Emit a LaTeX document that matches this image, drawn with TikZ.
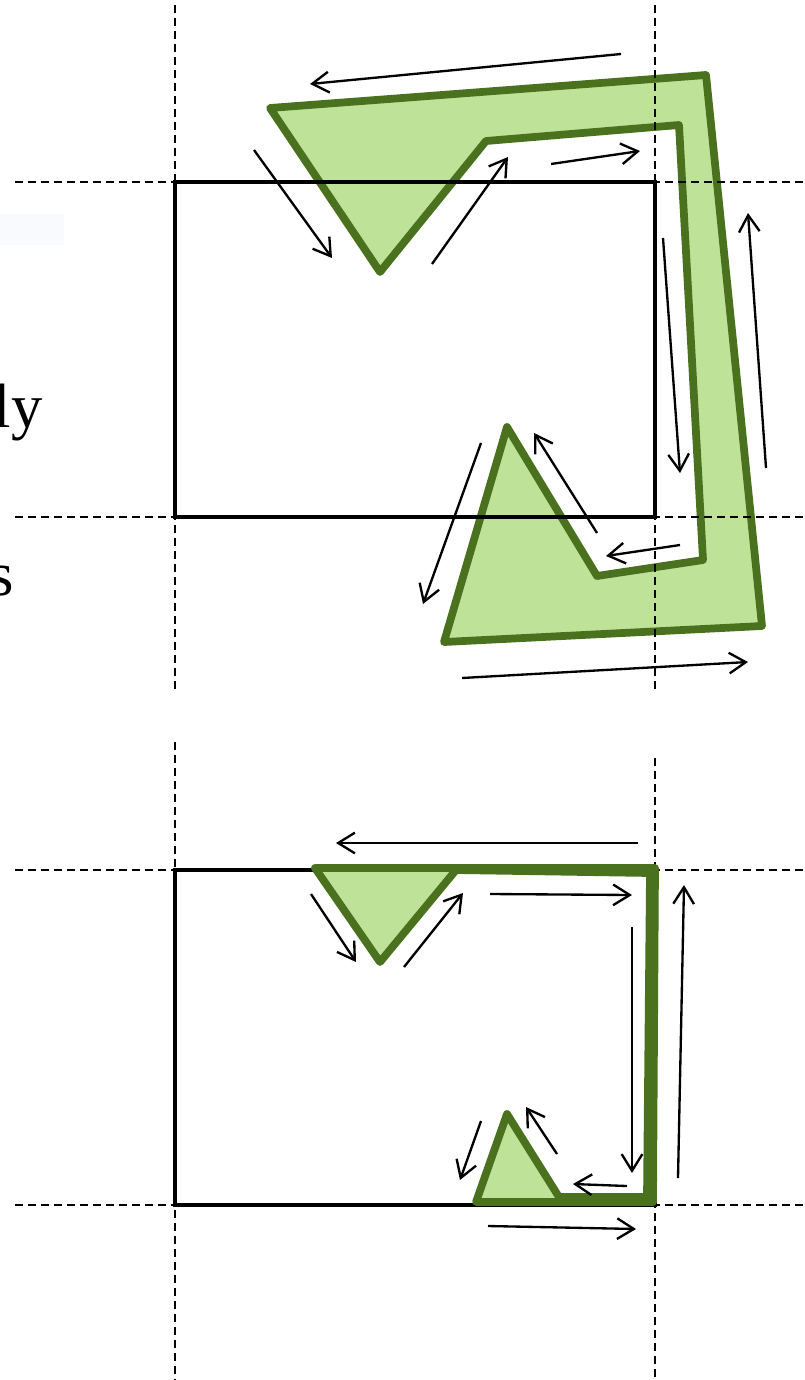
\documentclass[tikz,border=0pt]{standalone}
\usepackage{fontspec}
\setmainfont{Liberation Serif}
\usetikzlibrary{arrows.meta}
\definecolor{leaf}{RGB}{190,226,152}
\definecolor{leafdark}{RGB}{74,113,29}
\definecolor{faint}{RGB}{249,250,253}
\tikzset{
  guide/.style={line width=1.1pt, dash pattern=on 6pt off 3.75pt, black},
  frame/.style={line width=2.6pt, black, line join=miter},
  band/.style={line width=5.8pt, draw=leafdark, fill=leaf, line join=round},
  flow/.style={line width=1.75pt, black, -{Straight Barb[length=12.5pt,width=15.5pt]}},
  bigtext/.style={inner sep=0pt, font=\fontsize{47pt}{56pt}\selectfont}
}
\begin{document}
\begin{tikzpicture}[x=0.75pt,y=-0.75pt]
\useasboundingbox (0,0) rectangle (804,1380);
\fill[white] (0,0) rectangle (804,1380);
\fill[faint] (0,214) rectangle (64,245);

% left text fragments (cut by the left edge, as in the reference)
\node[bigtext, anchor=base east] (t1) at (43,427) {ly};
\node[bigtext, anchor=base east] (t2) at (14,595) {s};

% ===== top figure =====
\draw[band] (270,108) -- (706,75) -- (762,626) -- (444,642) -- (507,427)
  -- (597,576) -- (703,560) -- (679,125) -- (486,141) -- (380,272) -- cycle;
\draw[guide] (175,5) -- (175,693);
\draw[guide] (655,5) -- (655,693);
\draw[guide] (15,182) -- (804,182);
\draw[guide] (15,517) -- (804,517);
\draw[frame] (175,182) rectangle (655,517);

\draw[flow] (621,54) -- (310,84);
\draw[flow] (254,150) -- (332,258);
\draw[flow] (432,264) -- (508,157);
\draw[flow] (551,164) -- (640,151);
\draw[flow] (663,238) -- (680,473);
\draw[flow] (766,468) -- (748,213);
\draw[flow] (680,545) -- (606,556);
\draw[flow] (597,533) -- (534,433);
\draw[flow] (481,443) -- (423,604);
\draw[flow] (462,678) -- (748,662);

% ===== bottom figure =====
\draw[guide] (175,742) -- (175,1380);
\draw[guide] (655,758) -- (655,1380);
\draw[guide] (15,870) -- (804,870);
\draw[guide] (15,1205) -- (804,1205);
\draw[frame] (175,870) rectangle (655,1205);
\draw[band] (315,868) -- (655,868) -- (653,1202) -- (476,1202) -- (507,1114)
  -- (559,1197) -- (647,1197) -- (650,873) -- (456,870) -- (380,962) -- cycle;

\draw[flow] (638,843) -- (336,843);
\draw[flow] (311,894) -- (356,962);
\draw[flow] (404,967) -- (463,893);
\draw[flow] (490,894) -- (632,895);
\draw[flow] (632,927) -- (632,1173);
\draw[flow] (678,1178) -- (684,885);
\draw[flow] (627,1186) -- (573,1184);
\draw[flow] (557,1154) -- (526,1107);
\draw[flow] (481,1121) -- (460,1180);
\draw[flow] (488,1226) -- (636,1229);
\end{tikzpicture}
\end{document}
